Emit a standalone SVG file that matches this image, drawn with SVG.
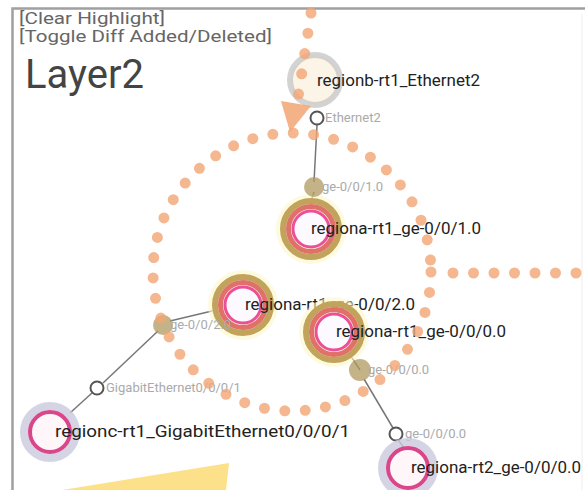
<svg xmlns="http://www.w3.org/2000/svg" width="585" height="490" viewBox="0 0 585 490">
<style>
.bg{fill:#fff}
.frame{stroke:#a0a0a0;fill:none}
.ui{font-family:Roboto,"Liberation Sans",sans-serif;font-size:16.5px;fill:#666}
.title{font-family:Roboto,"Liberation Sans",sans-serif;font-size:40px;fill:#444}
.nl{font-family:Roboto,"Liberation Sans",sans-serif;font-size:16.5px;fill:#222}
.pl{font-family:Roboto,"Liberation Sans",sans-serif;font-size:13px;fill:#aaa}
.link{stroke:#777;stroke-width:1.5;fill:none}
.dot{stroke:#f2a574;stroke-opacity:.8;stroke-width:11;stroke-linecap:round;stroke-dasharray:0 20.5;fill:none}
.halo{fill:#fbf6c8;opacity:.6}
.ra-out{fill:none;stroke:#c1a35c;stroke-width:6}
.ra-mid{fill:none;stroke:#e0706a;stroke-width:5}
.ra-in{fill:#fdfaff;stroke:#ec4f96;stroke-width:3}
.pa{fill:#b09a5f;fill-opacity:.75}
.pw{fill:#fff;stroke:#555;stroke-width:2}
.rc-halo{fill:none;stroke:#c9c9dd;stroke-width:8;opacity:.8}
.rc-ring{fill:#fff6fa;stroke:#d9468a;stroke-width:4}
</style>
<rect class="bg" x="0" y="0" width="585" height="490"/>
<path class="frame" d="M12.5 490 V8.5 H585" stroke-width="2.5"/>
<line x1="582" y1="14" x2="582" y2="490" stroke="#eee" stroke-width="1"/>
<text class="ui" x="19" y="24" textLength="146" lengthAdjust="spacingAndGlyphs">[Clear Highlight]</text>
<text class="ui" x="19" y="42" textLength="253" lengthAdjust="spacingAndGlyphs">[Toggle Diff Added/Deleted]</text>
<text class="title" x="25" y="88">Layer2</text>

<g id="connectors">
<line class="link" x1="317" y1="125" x2="314" y2="182"/>
<line class="link" x1="314" y1="192" x2="312" y2="198"/>
<line class="link" x1="170" y1="321" x2="212" y2="311"/>
<line class="link" x1="158" y1="331" x2="103" y2="383"/>
<line class="link" x1="92" y1="393" x2="70" y2="413"/>
<line class="link" x1="352" y1="358" x2="360" y2="370"/>
<line class="link" x1="364" y1="379" x2="393" y2="428"/>
<line class="link" x1="399" y1="441" x2="404" y2="448"/>
</g>

<g id="node-regionb-rt1_Ethernet2">
<circle cx="315" cy="80" r="25" fill="#fcf4e6" stroke="#c8c8c8" stroke-width="6" stroke-opacity=".8"/>
<text class="nl" x="317" y="86" textLength="163" lengthAdjust="spacingAndGlyphs">regionb-rt1_Ethernet2</text>
</g>
<g id="port-Ethernet2">
<circle class="pw" cx="317" cy="118" r="6.5"/>
<text class="pl" x="325" y="122">Ethernet2</text>
</g>

<g id="node-regiona-rt1_ge-0-0-1.0">
<circle class="halo" cx="311" cy="229" r="35"/>
<circle class="ra-out" cx="311" cy="229" r="28"/>
<circle class="ra-mid" cx="311" cy="229" r="22.5"/>
<circle class="ra-in" cx="311" cy="229" r="18"/>
<text class="nl" x="311" y="234" textLength="170" lengthAdjust="spacingAndGlyphs">regiona-rt1_ge-0/0/1.0</text>
</g>
<g id="port-ge-0-0-1.0">
<circle class="pa" cx="314" cy="187" r="10"/>
<text class="pl" x="322" y="191">ge-0/0/1.0</text>
</g>

<g id="node-regiona-rt1_ge-0-0-2.0">
<circle class="halo" cx="243" cy="305" r="35"/>
<circle class="ra-out" cx="243" cy="305" r="28"/>
<circle class="ra-mid" cx="243" cy="305" r="22.5"/>
<circle class="ra-in" cx="243" cy="305" r="18"/>
<text class="nl" x="245" y="310" textLength="170" lengthAdjust="spacingAndGlyphs">regiona-rt1_ge-0/0/2.0</text>
</g>
<g id="port-ge-0-0-2.0">
<circle class="pa" cx="163" cy="325" r="10"/>
<text class="pl" x="170" y="329">ge-0/0/2.0</text>
</g>

<g id="node-regiona-rt1_ge-0-0-0.0">
<circle class="halo" cx="334" cy="332" r="35"/>
<circle class="ra-out" cx="334" cy="332" r="28"/>
<circle class="ra-mid" cx="334" cy="332" r="22.5"/>
<circle class="ra-in" cx="334" cy="332" r="18"/>
<text class="nl" x="336" y="337" textLength="170" lengthAdjust="spacingAndGlyphs">regiona-rt1_ge-0/0/0.0</text>
</g>
<g id="port-ge-0-0-0.0-a">
<circle class="pa" cx="360" cy="370" r="11"/>
<text class="pl" x="368" y="374">ge-0/0/0.0</text>
</g>

<g id="port-GigabitEthernet0-0-0-1">
<circle class="pw" cx="97" cy="388" r="6.5"/>
<text class="pl" x="106" y="392">GigabitEthernet0/0/0/1</text>
</g>
<g id="node-regionc-rt1_GigabitEthernet0-0-0-1">
<circle class="rc-halo" cx="50" cy="432" r="26"/>
<circle class="rc-ring" cx="50" cy="432" r="20"/>
<text class="nl" x="55" y="437" textLength="295" lengthAdjust="spacingAndGlyphs">regionc-rt1_GigabitEthernet0/0/0/1</text>
</g>

<g id="port-ge-0-0-0.0-b">
<circle class="pw" cx="396" cy="434" r="6.5"/>
<text class="pl" x="405" y="438">ge-0/0/0.0</text>
</g>
<g id="node-regiona-rt2_ge-0-0-0.0">
<circle class="rc-halo" cx="408" cy="468" r="26"/>
<circle class="rc-ring" cx="408" cy="468" r="20"/>
<text class="nl" x="411" y="473" textLength="170" lengthAdjust="spacingAndGlyphs">regiona-rt2_ge-0/0/0.0</text>
</g>

<g id="overlay">
<circle class="dot" cx="292" cy="272" r="139"/>
<path class="dot" d="M311 13 L297 104"/>
<polygon points="281,101 311,106 290,132" fill="#f2a574" fill-opacity=".85"/>
<path class="dot" d="M453 273 H585"/>
<polygon points="62,490 229,463 226,490" fill="#fde18a"/>
</g>
</svg>
